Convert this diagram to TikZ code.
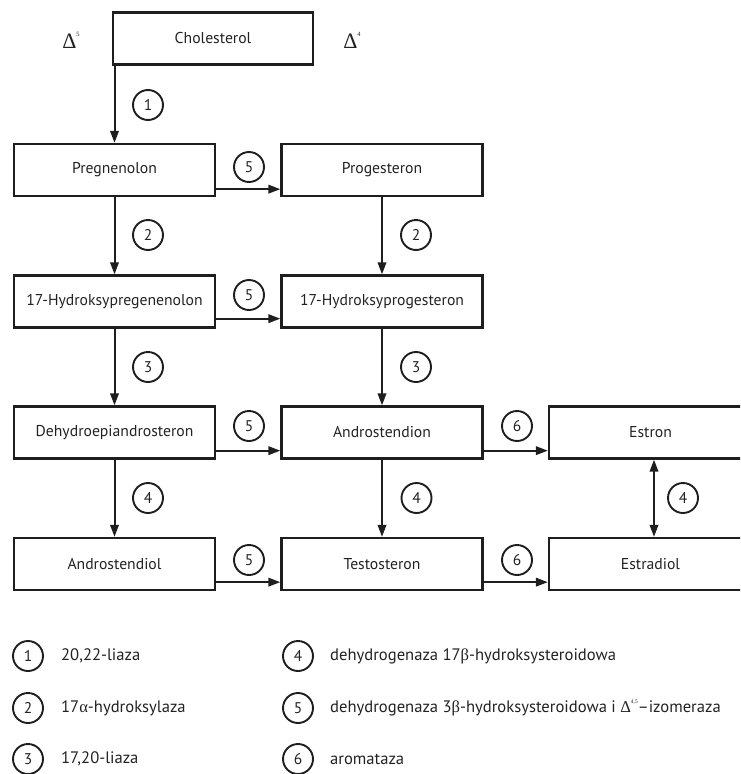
\documentclass[tikz,border=0pt]{standalone}
\usepackage{fontspec}
\setmainfont{PT Sans}
\newfontfamily\grk{Liberation Serif}
\usetikzlibrary{arrows.meta}

\definecolor{ink}{HTML}{1E1E1E}
\definecolor{txt}{HTML}{222222}

\newcommand{\grkdelta}[1]{{\grk Δ}\raisebox{0.55em}{\grk\fontsize{6.5}{6.5}\selectfont #1}}

\tikzset{
  stepbox/.style={draw=ink, line width=2.3pt, rectangle, minimum width=201pt,
    minimum height=52pt, inner sep=0pt, text=txt, font=\fontsize{15.7}{18}\selectfont},
  enz/.style={draw=ink, line width=1.9pt, circle, minimum size=30pt, inner sep=0pt,
    text=txt, font=\fontsize{15.5}{18}\selectfont},
  conv/.style={draw=ink, line width=2pt, -{Triangle[length=12pt,width=8.5pt]}},
  both/.style={draw=ink, line width=2pt, {Triangle[length=12pt,width=8.5pt]}-{Triangle[length=12pt,width=8.5pt]}},
  legtext/.style={anchor=west, inner sep=0pt, text=txt, font=\fontsize{16.6}{19}\selectfont},
  delta/.style={inner sep=0pt, text=txt, font=\fontsize{22}{24}\selectfont}
}

\begin{document}
\begin{tikzpicture}[x=1pt, y=-1pt]
\useasboundingbox (0,0) rectangle (740,774);
\clip (0,0) rectangle (740,774);

% pathway compounds
\node[stepbox, minimum width=200pt] (chol) at (213,38.5) {Cholesterol};
\node[stepbox] (preg)   at (114.5,170)   {Pregnenolon};
\node[stepbox] (prog)   at (382,170)     {Progesteron};
\node[stepbox] (ohpreg) at (114.5,301.5) {17-Hydroksypregenenolon};
\node[stepbox] (ohprog) at (382,301.5)   {17-Hydroksyprogesteron};
\node[stepbox] (dhea)   at (114.5,432.5) {Dehydroepiandrosteron};
\node[stepbox] (andion) at (382,432.5)   {Androstendion};
\node[stepbox, minimum width=203pt] (estron) at (650.5,432.5) {Estron};
\node[stepbox] (andiol) at (114.5,564)   {Androstendiol};
\node[stepbox] (testo)  at (382,564)     {Testosteron};
\node[stepbox, minimum width=203pt] (estrad) at (650.5,564) {Estradiol};

% ring-type labels
\node[delta] (d5) at (71,40) {\grkdelta{5}};
\node[delta] (d4) at (352,40) {\grkdelta{4}};

% vertical conversions
\draw[conv] (chol.south west -| preg.north) -- (preg.north);
\draw[conv] (preg.south) -- (ohpreg.north);
\draw[conv] (prog.south) -- (ohprog.north);
\draw[conv] (ohpreg.south) -- (dhea.north);
\draw[conv] (ohprog.south) -- (andion.north);
\draw[conv] (dhea.south) -- (andiol.north);
\draw[conv] (andion.south) -- (testo.north);
\draw[both] ([xshift=3.5pt]estron.south) -- ([xshift=3.5pt]estrad.north);

% horizontal conversions, running just above the lower box edges
\draw[conv] ([yshift=8pt]preg.south east) -- ([yshift=8pt]prog.south west);
\draw[conv] ([yshift=10pt]ohpreg.south east) -- ([yshift=10pt]ohprog.south west);
\draw[conv] ([yshift=9pt]dhea.south east) -- ([yshift=9pt]andion.south west);
\draw[conv] ([yshift=9pt]andion.south east) -- ([yshift=9pt]estron.south west);
\draw[conv] ([yshift=9pt]andiol.south east) -- ([yshift=9pt]testo.south west);
\draw[conv] ([yshift=9pt]testo.south east) -- ([yshift=9pt]estrad.south west);

% enzyme markers on the conversions
\node[enz] (e1)  at (148,105) {1};
\node[enz] (e5a) at (249,167) {5};
\node[enz] (e2a) at (148,235) {2};
\node[enz] (e2b) at (416,235) {2};
\node[enz] (e5b) at (249,295) {5};
\node[enz] (e3a) at (148,367) {3};
\node[enz] (e3b) at (416,367) {3};
\node[enz] (e5c) at (249,426) {5};
\node[enz] (e6a) at (517,426) {6};
\node[enz] (e4a) at (148,498) {4};
\node[enz] (e4b) at (416.5,498) {4};
\node[enz] (e4c) at (683,498) {4};
\node[enz] (e5d) at (249,560) {5};
\node[enz] (e6b) at (517,560) {6};

% legend
\node[enz] (l1) at (28,656) {1};
\node[enz] (l2) at (28,708) {2};
\node[enz] (l3) at (28,759) {3};
\node[enz] (l4) at (298,656) {4};
\node[enz] (l5) at (298,708) {5};
\node[enz] (l6) at (298,759) {6};
\node[legtext] (t1) at (61,656) {20,22-liaza};
\node[legtext] (t2) at (61,708) {17{\grk α}-hydroksylaza};
\node[legtext] (t3) at (61,759) {17,20-liaza};
\node[legtext] (t4) at (330,656) {dehydrogenaza 17{\grk β}-hydroksysteroidowa};
\node[legtext] (t5) at (330,708) {dehydrogenaza 3{\grk β}-hydroksysteroidowa i {\grk Δ}\raisebox{0.5em}{\grk\fontsize{5.5}{5.5}\selectfont 4,5}--izomeraza};
\node[legtext] (t6) at (330,759) {aromataza};
\end{tikzpicture}
\end{document}
